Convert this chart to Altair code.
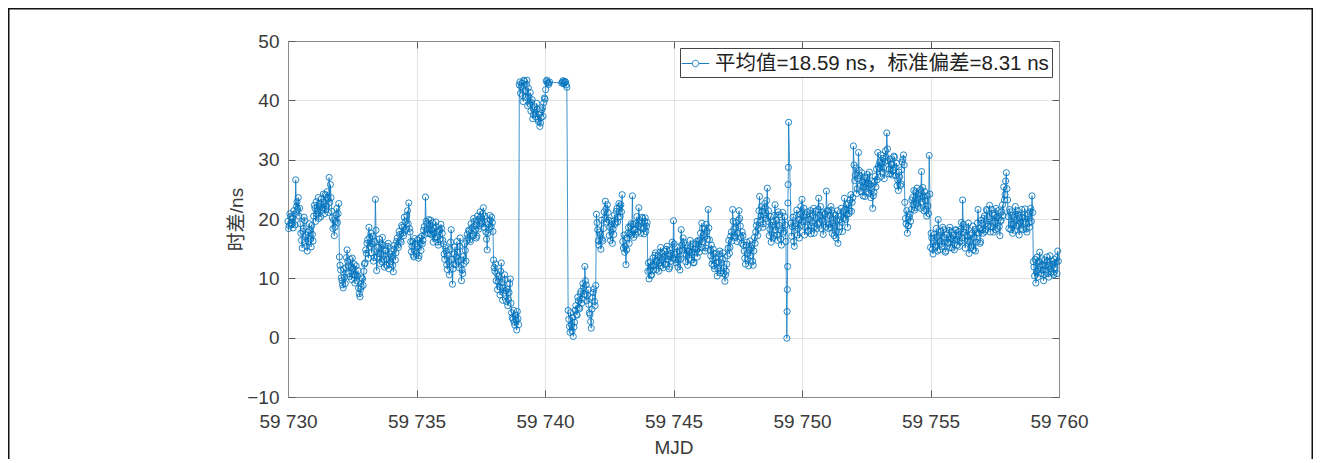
import altair as alt
import pandas as pd

BLUE = "#0072BD"
FONT = "Liberation Sans, Arial, Noto Sans CJK SC, sans-serif"
LEGEND = "平均值=18.59 ns，标准偏差=8.31 ns"
X_TITLE = "MJD"
Y_TITLE = "时差/ns"

START_MJD = 59730
PER_DAY = 20
X_TICKS = [59730, 59735, 59740, 59745, 59750, 59755, 59760]
Y_TICKS = [-10, 0, 10, 20, 30, 40, 50]

# time difference (ns): "a" samples at d + i/20, "b" samples at d + (i+0.5)/20
d00 = [19.6, 18.9, 20.4, 19.1, 18.5, 20.8, 26.6, 22.9, 23.6, 21.8, 17.6, 15.1, 18.4, 19.7, 17.3, 14.6, 16.2, 18.1, 15.3, 17.4]
d01 = [20.5, 21.8, 22.9, 21.4, 20.1, 22.6, 23.4, 21.9, 22.8, 24.1, 22.2, 23.5, 27.0, 25.8, 21.3, 18.4, 17.2, 19.6, 21.8, 20.9]
d02 = [13.6, 11.4, 9.6, 8.4, 10.2, 11.8, 14.8, 12.1, 10.3, 11.9, 13.4, 10.6, 9.2, 12.1, 10.4, 8.3, 6.9, 8.6, 9.9, 11.2]
d03 = [12.6, 14.2, 16.5, 18.6, 15.4, 14.3, 17.1, 13.5, 23.3, 11.3, 15.2, 16.6, 14.1, 12.8, 15.6, 11.9, 14.6, 13.2, 15.9, 12.4]
d04 = [12.8, 14.5, 11.1, 15.6, 14.3, 16.8, 15.2, 17.4, 16.1, 18.6, 17.2, 19.5, 18.3, 21.4, 22.7, 17.8, 14.5, 16.2, 13.6, 15.8]
d05 = [14.2, 16.5, 13.8, 15.9, 17.1, 16.4, 18.7, 23.7, 19.2, 17.6, 18.9, 19.8, 17.3, 16.1, 18.4, 19.5, 17.0, 15.6, 18.2, 19.1]
d06 = [17.6, 15.8, 13.2, 14.6, 11.5, 12.8, 14.9, 18.2, 9.0, 12.4, 15.3, 13.6, 14.4, 11.8, 16.8, 9.6, 10.8, 12.5, 14.7, 16.3]
d07 = [16.8, 17.9, 16.2, 18.5, 17.4, 19.6, 18.2, 17.1, 19.9, 18.8, 20.4, 19.3, 21.9, 20.5, 17.8, 14.8, 19.1, 20.6, 18.7, 19.4]
d08 = [13.1, 11.2, 9.6, 8.1, 10.4, 7.2, 12.6, 6.3, 7.5, 9.8, 6.1, 5.4, 7.6, 9.9, 4.2, 3.1, 2.6, 3.8, 1.3, 3.2]
d09 = [42.6, 41.2, 42.9, 39.8, 43.2, 40.5, 43.4, 42.1, 39.4, 38.2, 40.1, 37.6, 38.9, 37.2, 38.5, 36.4, 35.6, 37.1, 38.8, 39.6]
d10 = [40.2, 43.2, 43.0, 42.7, None, None, None, None, None, None, None, None, None, 42.9, 43.3, 43.0, 43.1, 42.2, 4.6, 1.9]
d11 = [4.2, 1.1, 0.2, 2.6, 5.4, 3.8, 6.2, 4.9, 7.8, 6.5, 8.4, 12.0, 8.9, 7.1, 5.6, 3.9, 1.6, 6.8, 8.2, 5.4]
d12 = [20.8, 18.2, 15.6, 17.4, 19.8, 16.3, 21.2, 23.0, 19.5, 21.1, 17.2, 16.4, 19.6, 18.3, 20.7, 19.4, 21.8, 20.3, 22.1, 22.4]
d13 = [24.1, 15.1, 14.4, 12.3, 16.8, 18.6, 17.5, 19.2, 23.9, 16.9, 18.2, 19.3, 17.8, 21.9, 19.2, 18.6, 20.1, 17.5, 20.2, 18.8]
d14 = [11.2, 9.9, 12.8, 10.6, 13.4, 12.1, 14.3, 11.5, 13.8, 12.6, 15.2, 13.1, 11.8, 14.6, 12.4, 15.4, 13.7, 11.9, 14.2, 16.1]
d15 = [19.7, 14.1, 12.6, 15.3, 13.2, 11.4, 18.2, 14.8, 16.1, 15.6, 13.9, 12.2, 14.6, 16.4, 13.1, 15.8, 12.7, 14.3, 16.2, 15.0]
d16 = [14.4, 17.6, 19.3, 16.2, 18.4, 15.1, 17.9, 21.6, 16.5, 13.8, 12.4, 14.9, 11.6, 13.5, 10.4, 12.8, 14.6, 11.3, 13.2, 10.8]
d17 = [9.5, 11.2, 13.8, 16.4, 15.2, 17.8, 21.6, 18.3, 16.9, 19.4, 17.6, 21.4, 18.8, 15.9, 17.2, 14.6, 12.4, 16.1, 13.2, 14.8]
d18 = [13.8, 15.6, 12.2, 16.9, 17.8, 19.6, 18.4, 23.8, 20.5, 21.3, 19.2, 22.6, 20.1, 25.2, 21.4, 18.3, 16.1, 19.5, 17.2, 22.4]
d19 = [19.8, 16.4, 20.7, 18.2, 15.6, 21.1, 17.9, 19.0, None, None, None, None, 17.1, 20.3, 15.4, 19.2, 21.5, 18.4, 16.8, 22.1]
d20 = [23.3, 20.4, 17.3, 19.8, 21.2, 18.1, 20.9, 17.5, 19.4, 21.8, 18.7, 20.2, 19.1, 23.5, 20.6, 18.4, 21.1, 19.6, 20.8, 24.7]
d21 = [21.3, 19.1, 18.6, 21.5, 19.3, 17.2, 20.6, 19.8, 15.9, 18.7, 20.5, 19.4, 21.2, 23.5, 19.9, 20.8, 22.6, 21.4, 24.1, 22.8]
d22 = [32.3, 26.5, 28.6, 25.1, 31.2, 27.3, 24.6, 26.2, 25.4, 23.8, 26.9, 27.5, 24.3, 25.8, 26.4, 21.8, 24.5, 27.2, 28.4, 31.2]
d23 = [28.6, 27.1, 29.4, 30.2, 26.8, 31.5, 34.5, 29.8, 28.4, 27.6, 29.1, 28.2, 30.4, 27.3, 25.6, 24.8, 27.1, 25.9, 29.6, 30.8]
d24 = [22.8, 19.2, 17.6, 18.9, 20.8, 21.6, 23.6, 24.8, 21.9, 22.6, 23.4, 24.2, 21.8, 28.0, 25.3, 21.4, 23.1, 20.5, 22.2, 30.7]
d25 = [15.2, 16.8, 14.1, 17.4, 15.6, 16.9, 19.9, 14.8, 17.9, 15.4, 18.2, 16.1, 14.6, 17.5, 15.9, 18.6, 16.7, 15.1, 17.2, 16.4]
d26 = [18.1, 15.6, 17.9, 16.2, 19.4, 23.2, 17.8, 15.1, 18.6, 16.4, 14.2, 17.3, 15.5, 18.8, 16.9, 14.6, 17.7, 21.6, 18.4, 16.2]
d27 = [19.3, 17.6, 20.5, 18.2, 21.4, 19.1, 22.3, 18.7, 20.9, 17.8, 19.6, 21.8, 18.4, 20.2, 17.2, 19.8, 22.4, 25.4, 24.1, 27.8]
d28 = [23.2, 18.4, 21.2, 19.1, 17.6, 20.3, 22.1, 18.8, 20.7, 17.3, 19.5, 21.6, 18.2, 20.1, 19.4, 17.8, 20.9, 18.6, 21.8, 23.9]
d29 = [12.8, 10.4, 9.2, 13.6, 11.5, 14.4, 10.8, 12.2, 9.6, 13.1, 11.4, 12.9, 10.2, 13.8, 11.1, 12.4, 10.6, 11.8, 13.5, 14.6]

d00b = [18.4, 20.9, 19.3, 20.1, 21.4, 19.0, 22.1, 21.7, 20.5, 19.2, 16.4, 17.9, 20.3, 16.1, 15.4, 17.8, 19.2, 16.6, 18.9, 16.3]
d01b = [22.3, 19.6, 20.8, 23.6, 22.1, 20.4, 21.5, 24.2, 20.9, 21.6, 24.6, 21.1, 22.8, 23.6, 20.2, 19.8, 18.6, 20.7, 19.4, 22.6]
d02b = [12.2, 10.1, 8.9, 11.6, 9.1, 13.5, 12.9, 10.8, 13.2, 9.8, 11.7, 12.4, 10.6, 9.6, 11.3, 7.4, 8.2, 10.1, 8.8, 12.4]
d03b = [14.8, 15.9, 13.4, 16.9, 17.6, 15.8, 12.9, 16.2, 18.1, 13.6, 14.2, 12.5, 15.8, 16.9, 13.1, 14.8, 12.2, 15.4, 11.6, 14.1]
d04b = [13.6, 12.2, 14.9, 13.1, 16.2, 15.6, 17.9, 16.4, 18.9, 17.6, 20.3, 18.1, 20.6, 19.2, 18.4, 16.2, 15.4, 13.9, 16.7, 14.6]
d05b = [15.3, 13.4, 16.8, 14.7, 15.8, 18.1, 17.4, 19.6, 18.3, 19.9, 17.5, 18.2, 19.4, 17.6, 16.8, 18.7, 16.1, 17.9, 16.6, 18.4]
d06b = [16.4, 14.1, 15.2, 12.3, 13.9, 10.6, 16.1, 13.2, 11.6, 14.1, 12.3, 16.2, 12.9, 15.4, 13.1, 11.4, 13.7, 15.8, 12.9, 17.4]
d07b = [18.1, 16.5, 19.2, 17.1, 20.1, 18.9, 16.8, 20.5, 18.3, 21.2, 19.6, 20.9, 18.6, 19.4, 16.6, 17.6, 18.2, 19.8, 20.3, 17.9]
d08b = [11.8, 12.4, 10.8, 9.4, 8.6, 11.2, 9.3, 8.4, 10.6, 7.9, 8.2, 6.4, 9.1, 5.8, 3.4, 4.6, 2.1, 2.9, 4.4, 2.2]
d09b = [43.1, 42.3, 40.8, 43.4, 41.6, 42.7, 39.1, 40.6, 41.3, 39.6, 36.9, 38.4, 37.8, 39.5, 36.8, 37.6, 36.2, 38.4, 37.3, 40.4]
d10b = [41.8, 43.4, 42.9, 43.1, None, None, None, None, None, None, None, None, None, 43.1, 42.8, 43.2, 42.6, None, 3.1, 0.9]
d11b = [2.2, 3.4, 1.8, 4.6, 3.9, 6.8, 5.1, 7.4, 5.8, 9.1, 7.3, 9.6, 6.2, 8.1, 4.2, 2.7, 4.8, 7.6, 6.1, 8.8]
d12b = [19.4, 16.3, 17.8, 14.9, 16.6, 18.4, 20.1, 21.7, 22.4, 19.8, 18.6, 19.2, 15.9, 17.4, 19.1, 21.3, 19.5, 22.6, 20.4, 21.2]
d13b = [16.2, 17.3, 15.4, 14.8, 17.6, 15.9, 18.8, 17.3, 19.1, 18.1, 17.4, 20.4, 18.9, 19.7, 17.6, 20.3, 18.4, 19.6, 17.9, 19.4]
d14b = [12.6, 11.3, 10.5, 12.1, 11.4, 13.9, 12.8, 13.1, 11.2, 14.4, 12.1, 14.2, 13.6, 12.3, 14.9, 13.2, 11.6, 14.8, 12.9, 13.4]
d15b = [15.8, 13.1, 14.4, 11.9, 14.6, 13.2, 15.6, 16.8, 14.2, 12.8, 15.1, 14.6, 13.4, 15.3, 14.4, 12.6, 14.9, 15.8, 13.6, 16.4]
d16b = [16.3, 15.2, 18.4, 17.4, 14.6, 19.1, 16.6, 18.5, 14.8, 15.6, 13.2, 12.1, 14.2, 12.6, 11.6, 14.1, 10.9, 12.6, 14.3, 11.8]
d17b = [10.6, 12.4, 15.1, 14.2, 17.1, 16.3, 19.6, 17.2, 18.6, 16.2, 19.8, 20.1, 16.9, 17.8, 15.6, 13.4, 15.6, 14.2, 12.1, 16.3]
d18b = [15.1, 12.9, 14.6, 15.9, 18.9, 17.2, 21.4, 19.8, 22.1, 18.6, 20.7, 21.9, 23.1, 19.6, 17.2, 20.4, 18.9, 16.8, 20.6, 18.1]
d19b = [17.3, 21.2, 18.9, 16.6, 19.4, 17.6, 20.4, 16.2, None, None, None, 19.3, 18.7, 16.2, 18.8, 20.6, 17.3, 19.9, 20.8, 18.9]
d20b = [19.6, 21.8, 18.6, 20.7, 17.9, 19.9, 21.4, 18.8, 20.6, 17.6, 21.3, 18.4, 21.6, 19.5, 22.1, 19.8, 17.4, 20.9, 18.6, 21.4]
d21b = [18.4, 20.6, 22.1, 17.6, 20.9, 18.8, 16.8, 21.4, 17.8, 19.9, 21.8, 17.9, 20.1, 21.6, 22.4, 18.6, 20.9, 23.2, 21.3, 23.6]
d22b = [29.1, 27.4, 24.3, 26.8, 28.2, 25.6, 27.8, 23.9, 27.1, 25.9, 24.6, 26.1, 27.9, 23.6, 25.1, 23.9, 26.3, 25.4, 26.6, 28.9]
d23b = [29.6, 30.8, 27.9, 28.6, 29.7, 30.4, 31.8, 27.6, 30.1, 29.3, 27.4, 30.6, 28.7, 29.4, 26.6, 27.9, 25.6, 28.3, 30.1, 29.1]
d24b = [20.1, 21.4, 18.8, 20.3, 19.6, 23.2, 22.4, 21.5, 24.6, 25.2, 22.1, 23.8, 24.9, 22.9, 23.8, 24.6, 21.6, 23.9, 20.9, 24.2]
d25b = [17.6, 14.9, 16.2, 15.3, 18.4, 14.6, 17.2, 16.3, 15.8, 18.6, 16.9, 14.4, 17.3, 16.1, 18.1, 15.2, 17.8, 16.6, 14.8, 18.2]
d26b = [16.6, 17.2, 15.4, 18.3, 16.8, 19.1, 16.3, 18.2, 17.1, 19.3, 16.1, 15.2, 17.6, 14.8, 18.2, 16.1, 19.3, 17.6, 15.9, 19.8]
d27b = [18.2, 20.1, 17.9, 21.6, 18.8, 20.4, 17.8, 21.6, 19.3, 20.6, 18.2, 20.3, 21.4, 18.7, 19.6, 21.2, 20.6, 23.2, 26.4, 25.1]
d28b = [20.4, 21.6, 18.2, 20.6, 19.2, 18.1, 20.8, 21.4, 19.1, 20.2, 18.4, 20.3, 19.6, 21.7, 18.3, 20.6, 19.3, 21.2, 19.6, 21.1]
d29b = [11.9, 13.2, 11.1, 10.2, 12.8, 12.1, 13.3, 11.4, 10.6, 12.1, 13.6, 10.8, 12.2, 11.6, 12.9, 10.9, 13.2, 12.6, 10.8, 12.9]

# outlier burst near MJD 59749.4
spike_mjd = [59749.41, 59749.42, 59749.43, 59749.44, 59749.45, 59749.46, 59749.47, 59749.48]
spike_val = [-0.1, 4.4, 8.1, 12.0, 22.7, 25.8, 28.7, 36.3]

days_a = [d00, d01, d02, d03, d04, d05, d06, d07, d08, d09, d10, d11, d12, d13, d14,
          d15, d16, d17, d18, d19, d20, d21, d22, d23, d24, d25, d26, d27, d28, d29]
days_b = [d00b, d01b, d02b, d03b, d04b, d05b, d06b, d07b, d08b, d09b, d10b, d11b, d12b, d13b, d14b,
          d15b, d16b, d17b, d18b, d19b, d20b, d21b, d22b, d23b, d24b, d25b, d26b, d27b, d28b, d29b]

mjd, val = [], []
for shift, days in ((0.0, days_a), (0.5, days_b)):
    for d, vals in enumerate(days):
        for i, v in enumerate(vals):
            if v is None:
                continue
            mjd.append(START_MJD + d + (i + shift) / PER_DAY)
            val.append(v)
mjd += spike_mjd
val += spike_val

df = pd.DataFrame({"mjd": mjd, "val": val}).sort_values("mjd").reset_index(drop=True)
df["series"] = LEGEND
df["order"] = range(len(df))

W, H = 771, 356
PAD_L, PAD_T, PAD_R, PAD_B = 280, 33, 254, 62

xs = alt.Scale(domain=[59730, 59760], nice=False, zero=False)
ys = alt.Scale(domain=[-10, 50], nice=False, zero=False)

LABEL_COLOR = "#3a3a3a"
DOMAIN_COLOR = "#8a8a8a"
GRID_COLOR = "#e3e3e3"
TICK_COLOR = "#5a5a5a"

x_main = alt.Axis(orient="bottom", values=X_TICKS, title=X_TITLE, grid=True, gridColor=GRID_COLOR,
                  ticks=False, domain=True, domainColor=DOMAIN_COLOR, labelFont=FONT, labelFontSize=19,
                  labelColor=LABEL_COLOR, labelPadding=15, labelFlush=False, titleFont=FONT, titleFontSize=19,
                  titleFontWeight="normal", titleColor=LABEL_COLOR, titlePadding=7,
                  labelExpr="slice(toString(datum.value), 0, 2) + ' ' + slice(toString(datum.value), 2)")
y_main = alt.Axis(orient="left", values=Y_TICKS, title=Y_TITLE, grid=True, gridColor=GRID_COLOR,
                  ticks=False, domain=True, domainColor=DOMAIN_COLOR, labelFont=FONT, labelFontSize=19,
                  labelColor=LABEL_COLOR, labelPadding=9, labelFlush=False, titleFont=FONT, titleFontSize=19,
                  titleFontWeight="normal", titleColor=LABEL_COLOR, titlePadding=0)
x_top = alt.Axis(orient="top", values=X_TICKS, title=None, labels=False, ticks=False, grid=False,
                 domain=True, domainColor=DOMAIN_COLOR)
y_right = alt.Axis(orient="right", values=Y_TICKS, title=None, labels=False, ticks=False, grid=False,
                   domain=True, domainColor=DOMAIN_COLOR)
x_in_bottom = alt.Axis(orient="top", offset=-H, values=X_TICKS, title=None, labels=False, ticks=True,
                       tickSize=7, tickColor=TICK_COLOR, grid=False, domain=False)
y_in_left = alt.Axis(orient="right", offset=-W, values=Y_TICKS, title=None, labels=False, ticks=True,
                     tickSize=7, tickColor=TICK_COLOR, grid=False, domain=False)
x_in_top = alt.Axis(orient="bottom", offset=-H, values=X_TICKS, title=None, labels=False, ticks=True,
                    tickSize=7, tickColor=TICK_COLOR, grid=False, domain=False)
y_in_right = alt.Axis(orient="left", offset=-W, values=Y_TICKS, title=None, labels=False, ticks=True,
                      tickSize=7, tickColor=TICK_COLOR, grid=False, domain=False)

SYMBOL = "M-1.15,0H-0.27M0.27,0H1.15M0.27,0A0.27,0.27,0,1,1,-0.27,0A0.27,0.27,0,1,1,0.27,0"

base = alt.Chart(df)

line = base.mark_line(strokeWidth=0.75).encode(
    x=alt.X("mjd:Q", scale=xs, axis=x_main),
    y=alt.Y("val:Q", scale=ys, axis=y_main),
    order="order:Q",
    color=alt.Color("series:N", scale=alt.Scale(domain=[LEGEND], range=[BLUE]),
                    legend=alt.Legend(title=None, orient="top-right", offset=7, padding=3,
                                      strokeColor="#444444", fillColor="white", cornerRadius=0,
                                      labelFont=FONT, labelFontSize=20.5, labelColor="#222222",
                                      labelLimit=600, labelOffset=7,
                                      symbolType=SYMBOL, symbolSize=576, symbolStrokeWidth=0.9,
                                      symbolStrokeColor=BLUE, symbolFillColor="white")),
)

points = base.mark_point(filled=False, size=38, strokeWidth=0.85, color=BLUE, opacity=1).encode(
    x=alt.X("mjd:Q", scale=xs, axis=x_top),
    y=alt.Y("val:Q", scale=ys, axis=y_right),
)

ticks_a = base.mark_point(opacity=0).encode(
    x=alt.X("mjd:Q", scale=xs, axis=x_in_bottom),
    y=alt.Y("val:Q", scale=ys, axis=y_in_left),
)
ticks_b = base.mark_point(opacity=0).encode(
    x=alt.X("mjd:Q", scale=xs, axis=x_in_top),
    y=alt.Y("val:Q", scale=ys, axis=y_in_right),
)

frame = alt.Chart(pd.DataFrame({"f": [0]})).mark_rect(fill=None, stroke="#111111", strokeWidth=1.5).encode(
    x=alt.value(-PAD_L + 0.75), x2=alt.value(W + PAD_R - 0.75),
    y=alt.value(-PAD_T + 0.75), y2=alt.value(H + PAD_B + 20),
)

chart = alt.layer(ticks_a, ticks_b, line, points, frame).resolve_axis(
    x="independent", y="independent"
).properties(
    width=W, height=H,
    autosize=alt.AutoSizeParams(type="none"),
    padding={"left": PAD_L, "top": PAD_T, "right": PAD_R, "bottom": PAD_B},
).configure_view(stroke=None).configure(background="white")

chart.save("out.html", embed_options={"renderer": "svg", "actions": False})
